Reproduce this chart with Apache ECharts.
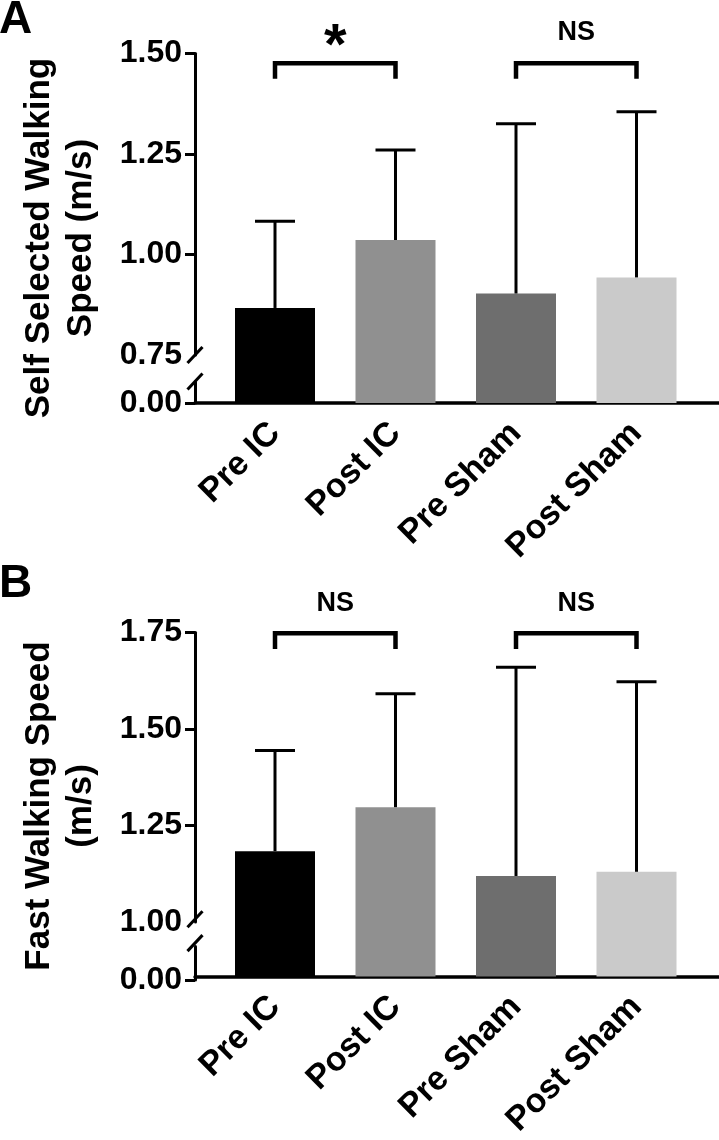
<!DOCTYPE html>
<html><head><meta charset="utf-8">
<script src="https://cdn.jsdelivr.net/npm/echarts@6/dist/echarts.min.js"></script>
<style>html,body{margin:0;padding:0;background:#fff}#c{width:719px;height:1140px}</style>
</head><body><div id="c"></div><script>
// ---- data ----
const categories = ['Pre IC', 'Post IC', 'Pre Sham', 'Post Sham'];
const colors = ['#000000', '#909090', '#6e6e6e', '#cacaca'];
const meanA = [0.867, 1.036, 0.903, 0.943];
const sdA   = [0.216, 0.224, 0.422, 0.412];
const meanB = [1.178, 1.293, 1.113, 1.124];
const sdB   = [0.263, 0.297, 0.546, 0.497];
const ticksA = [0.75, 1.00, 1.25, 1.50];
const ticksB = [1.00, 1.25, 1.50, 1.75];
const sigA = [[0, 1, '*'], [2, 3, 'NS']];
const sigB = [[0, 1, 'NS'], [2, 3, 'NS']];
// bracket levels: [leg end, bar, text]
const bracketA = [1.437, 1.476, 1.551];
const bracketB = [1.707, 1.748, 1.826];
const titleA = 'Self Selected Walking\nSpeed (m/s)';
const titleB = 'Fast Walking Speed\n(m/s)';

// ---- layout ----
const FONT = '"Liberation Sans", Arial, Helvetica, sans-serif';
const LEFT = 195, WIDTH = 524, FIRST = 275, SPACING = 120.5;
const xMin = -(FIRST - LEFT) / SPACING;
const xMax = xMin + WIDTH / SPACING;

const panels = [
  { mean: meanA, sd: sdA, ticks: ticksA, sig: sigA, bracket: bracketA, top: 53.5, breakPx: 355, lowerTop: 381.5, base: 403 },
  { mean: meanB, sd: sdB, ticks: ticksB, sig: sigB, bracket: bracketB, top: 632.5, breakPx: 922, lowerTop: 946.5, base: 980 }
];

const grid = [], xAxis = [], yAxis = [], series = [];
const tickLabelStyle = { fontSize: 32, fontWeight: 'bold', color: '#000', fontFamily: FONT };
const catLabelStyle = { fontSize: 34, fontWeight: 'bold', color: '#000', fontFamily: FONT };
const blackLine = { color: '#000', width: 3 };

panels.forEach((p, k) => {
  const g0 = 3 * k, g1 = g0 + 1, g2 = g0 + 2;
  const tmin = p.ticks[0], tmax = p.ticks[p.ticks.length - 1];
  const s = (p.breakPx - p.top) / (tmax - tmin);
  const vmin = tmin - (p.base - p.breakPx) / s;

  grid.push(
    { left: LEFT, width: WIDTH, top: p.top, height: p.base - p.top },
    { left: LEFT, width: WIDTH, top: p.top, height: p.breakPx - p.top },
    { left: LEFT, width: WIDTH, top: p.lowerTop, height: p.base - p.lowerTop }
  );

  xAxis.push(
    { gridIndex: g0, type: 'value', min: xMin, max: xMax,
      axisLine: { show: true, onZero: false, lineStyle: { color: '#000', width: 3.5 } },
      axisTick: { show: false }, splitLine: { show: false },
      axisLabel: Object.assign({ customValues: [0, 1, 2, 3], formatter: v => categories[Math.round(v)],
        rotate: 45, margin: 25 }, catLabelStyle) },
    { gridIndex: g1, type: 'value', min: xMin, max: xMax, show: false },
    { gridIndex: g2, type: 'value', min: xMin, max: xMax, show: false }
  );

  yAxis.push(
    { gridIndex: g0, type: 'value', min: vmin, max: tmax, show: false },
    { gridIndex: g1, type: 'value', min: tmin, max: tmax,
      axisLine: { show: true, onZero: false, lineStyle: blackLine },
      axisTick: { show: true, customValues: p.ticks.slice(1), length: 10, lineStyle: blackLine },
      axisLabel: Object.assign({ customValues: p.ticks, formatter: v => v.toFixed(2), margin: 13 }, tickLabelStyle),
      splitLine: { show: false } },
    { gridIndex: g2, type: 'value', min: 0, max: (p.base - p.lowerTop) / s,
      axisLine: { show: true, onZero: false, lineStyle: blackLine },
      axisTick: { show: true, customValues: [0], length: 10, lineStyle: blackLine },
      axisLabel: Object.assign({ customValues: [0], formatter: () => '0.00', margin: 13 }, tickLabelStyle),
      splitLine: { show: false } }
  );

  series.push({
    type: 'bar', xAxisIndex: g0, yAxisIndex: g0, barWidth: 80, silent: true, z: 2,
    data: p.mean.map((v, i) => ({ value: [i, v], itemStyle: { color: colors[i] } }))
  });

  series.push({
    type: 'custom', xAxisIndex: g0, yAxisIndex: g0, silent: true, z: 3,
    encode: { x: 0, y: [1, 2] },
    data: p.mean.map((m, i) => [i, m, m + p.sd[i]]),
    renderItem: (params, api) => {
      const x = api.value(0), m = api.value(1), t = api.value(2);
      const p0 = api.coord([x, m]), p1 = api.coord([x, t]);
      return { type: 'group', children: [
        { type: 'line', shape: { x1: p0[0], y1: p0[1], x2: p1[0], y2: p1[1] }, style: { stroke: '#000', lineWidth: 3 } },
        { type: 'line', shape: { x1: p1[0] - 20, y1: p1[1], x2: p1[0] + 20, y2: p1[1] }, style: { stroke: '#000', lineWidth: 3 } }
      ] };
    }
  });

  series.push({
    type: 'custom', xAxisIndex: g0, yAxisIndex: g0, silent: true, z: 3,
    data: p.sig.map(d => [d[0], d[1]]),
    renderItem: (params, api) => {
      const a = api.value(0), b = api.value(1);
      const [legV, barV, textV] = p.bracket;
      const pa = api.coord([a, barV]), pb = api.coord([b, barV]);
      const legY = api.coord([a, legV])[1];
      const ty = api.coord([a, textV])[1];
      const label = p.sig[params.dataIndex][2];
      const star = label === '*';
      return { type: 'group', children: [
        { type: 'polyline', shape: { points: [[pa[0], legY], [pa[0], pa[1]], [pb[0], pb[1]], [pb[0], legY]] },
          style: { stroke: '#000', lineWidth: 4.5, fill: null, lineJoin: 'miter' } },
        { type: 'text', x: (pa[0] + pb[0]) / 2, y: ty + (star ? 15 : 0),
          style: { text: label, fontSize: star ? 58 : 27, fontWeight: 'bold', fontFamily: FONT, fill: '#000',
            align: 'center', verticalAlign: 'middle' } }
      ] };
    }
  });

  series.push({
    type: 'custom', xAxisIndex: g0, yAxisIndex: g0, silent: true, z: 4,
    data: [[xMin, tmin]],
    renderItem: (params, api) => {
      const pU = api.coord([xMin, tmin]);
      const yL = api.coord([xMin, vmin])[1] - (p.base - p.lowerTop);
      const slash = (x, y) => ({ type: 'line', shape: { x1: x - 7.5, y1: y + 8, x2: x + 7.5, y2: y - 8 },
        style: { stroke: '#000', lineWidth: 3 } });
      return { type: 'group', children: [slash(pU[0], pU[1]), slash(pU[0], yL)] };
    }
  });
});

const titleStyle = { fontSize: 35, fontWeight: 'bold', fontFamily: FONT, fill: '#000', align: 'center', verticalAlign: 'middle', lineHeight: 42 };
const graphic = [
  { type: 'text', x: 60, y: 238, rotation: Math.PI / 2, style: Object.assign({ text: titleA }, titleStyle) },
  { type: 'text', x: 60, y: 806, rotation: Math.PI / 2, style: Object.assign({ text: titleB }, titleStyle) },
  { type: 'text', x: -1, y: -3, style: { text: 'A', fontSize: 46, fontWeight: 'bold', fontFamily: FONT, fill: '#000', verticalAlign: 'top' } },
  { type: 'text', x: -1, y: 561, style: { text: 'B', fontSize: 46, fontWeight: 'bold', fontFamily: FONT, fill: '#000', verticalAlign: 'top' } }
];

const chart = echarts.init(document.getElementById('c'), null, { renderer: 'canvas' });
chart.setOption({ animation: false, backgroundColor: '#fff', grid, xAxis, yAxis, series, graphic });
</script></body></html>
